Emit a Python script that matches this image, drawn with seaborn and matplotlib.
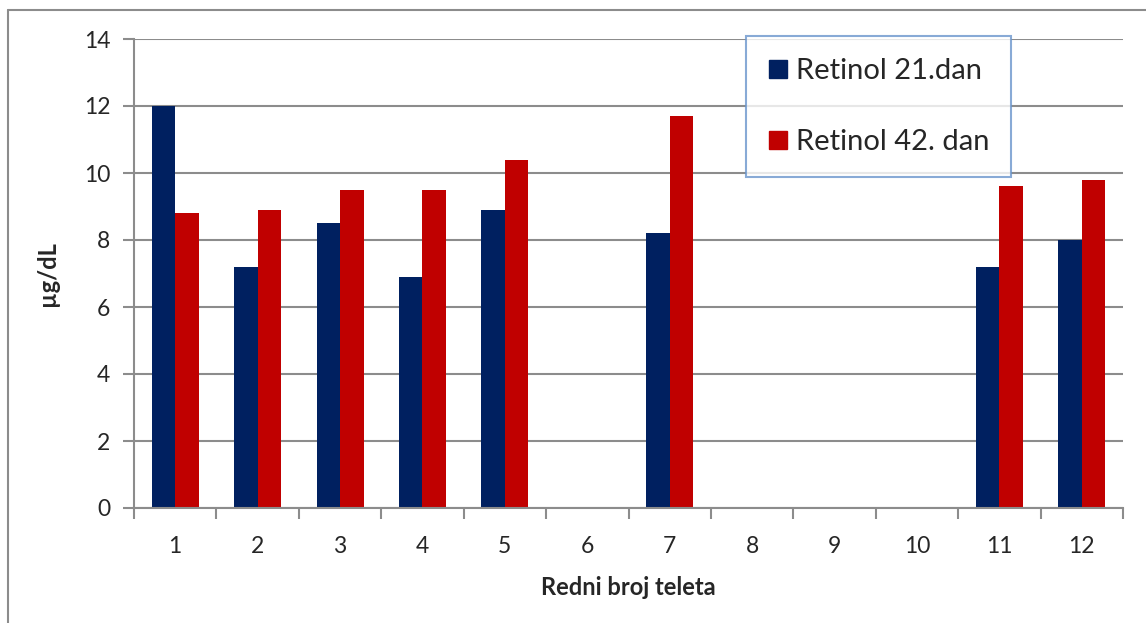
import matplotlib
matplotlib.use("Agg")
import matplotlib.pyplot as plt
from matplotlib.lines import Line2D
from matplotlib.ticker import FixedLocator
import seaborn as sns
import numpy as np
import pandas as pd

categories = ["1", "2", "3", "4", "5", "6", "7", "8", "9", "10", "11", "12"]
retinol_21 = [12.0, 7.2, 8.5, 6.9, 8.9, np.nan, 8.2, np.nan, np.nan, np.nan, 7.2, 8.0]
retinol_42 = [8.8, 8.9, 9.5, 9.5, 10.4, np.nan, 11.7, np.nan, np.nan, np.nan, 9.6, 9.8]
series_names = ["Retinol 21.dan", "Retinol 42. dan"]
colors = ["#002060", "#C00000"]
y_ticks = [0, 2, 4, 6, 8, 10, 12, 14]

df = pd.DataFrame({
    "tele": categories * 2,
    "val": retinol_21 + retinol_42,
    "serija": [series_names[0]] * len(categories) + [series_names[1]] * len(categories),
})

sns.set_theme(style="white")
plt.rcParams["font.family"] = ["Lato", "DejaVu Sans"]

fig = plt.figure(figsize=(11.46, 6.23), dpi=100)
ax = fig.add_axes([134 / 1146, 1 - 508 / 623, (1123 - 134) / 1146, (508 - 39) / 623])

sns.barplot(data=df, x="tele", y="val", hue="serija", order=categories,
            hue_order=series_names, palette=colors, width=0.57, saturation=1,
            dodge=True, ax=ax, legend=False, edgecolor="none")

grid_c = "#8C8C8C"
ax.set_ylim(0, 14)
ax.set_xlim(-0.5, len(categories) - 0.5)
ax.set_yticks(y_ticks)
ax.set_yticklabels([str(t) for t in y_ticks])
ax.yaxis.grid(True, color=grid_c, linewidth=1.5)
ax.set_axisbelow(True)
for s in ["top", "right"]:
    ax.spines[s].set_visible(False)
for s in ["left", "bottom"]:
    ax.spines[s].set_color(grid_c)
    ax.spines[s].set_linewidth(1.5)

ax.tick_params(axis="y", which="major", length=8, width=1.5, color=grid_c,
               direction="out", labelsize=16.5, pad=9, left=True)
ax.tick_params(axis="x", which="major", length=0, labelsize=16.5, pad=20)
ax.xaxis.set_minor_locator(FixedLocator(np.arange(-0.5, len(categories), 1.0)))
ax.tick_params(axis="x", which="minor", length=8, width=1.5, color=grid_c,
               direction="out", bottom=True)

ax.set_xlabel("Redni broj teleta", fontsize=17, fontweight="bold", labelpad=14)
ax.set_ylabel("µg/dL", fontsize=17, fontweight="bold", labelpad=18)

handles = [Line2D([0], [0], marker="s", linestyle="none", markersize=13,
                  markerfacecolor=c, markeredgecolor=c) for c in colors]
leg = ax.legend(handles, series_names, loc="upper left",
                bbox_to_anchor=(0.619, 1.006), fontsize=21, frameon=True,
                fancybox=False, labelspacing=1.55, borderpad=0.75,
                handlelength=0.7, handletextpad=0.25, borderaxespad=0)
leg.get_frame().set_edgecolor("#6A95CC")
leg.get_frame().set_linewidth(1.5)

# outer chart border (left and top visible)
fig.add_artist(Line2D([8 / 1146, 8 / 1146], [0, 1 - 10 / 623], color="#8C8C8C",
                      linewidth=1.5, transform=fig.transFigure))
fig.add_artist(Line2D([8 / 1146, 1], [1 - 10 / 623, 1 - 10 / 623], color="#8C8C8C",
                      linewidth=1.5, transform=fig.transFigure))

fig.savefig("out.png", dpi=100)
